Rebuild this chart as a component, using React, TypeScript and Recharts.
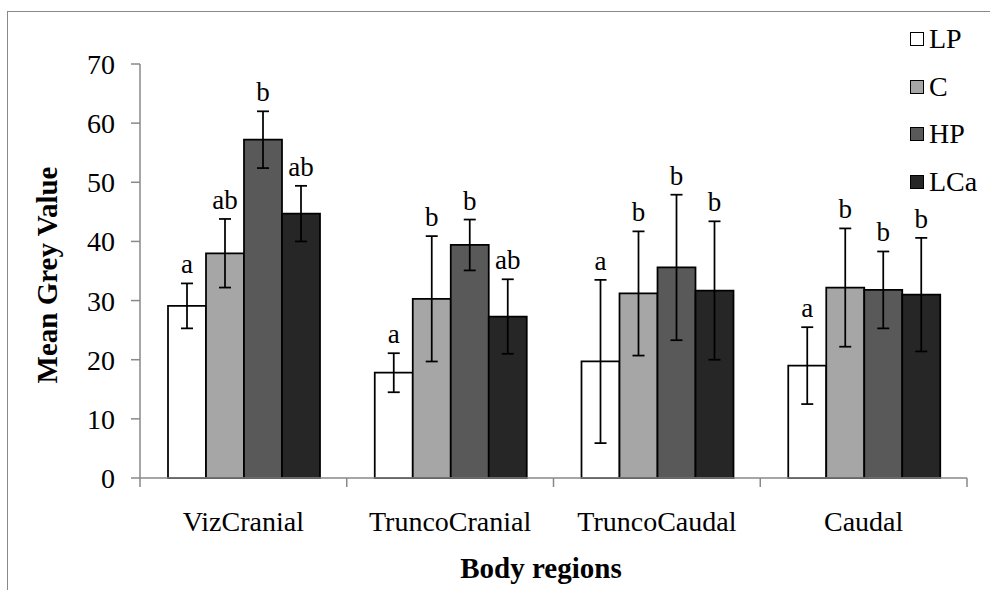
import { BarChart, Bar, XAxis, YAxis, ErrorBar, LabelList, Legend } from 'recharts';

const regions = ['VizCranial', 'TruncoCranial', 'TruncoCaudal', 'Caudal'];

const lpMean = [29.1, 17.8, 19.7, 19.0];
const lpErr = [3.8, 3.3, 13.8, 6.5];
const lpLetters = ['a', 'a', 'a', 'a'];

const cMean = [38.0, 30.3, 31.2, 32.2];
const cErr = [5.8, 10.6, 10.5, 10.0];
const cLetters = ['ab', 'b', 'b', 'b'];

const hpMean = [57.2, 39.4, 35.6, 31.8];
const hpErr = [4.8, 4.3, 12.3, 6.5];
const hpLetters = ['b', 'b', 'b', 'b'];

const lcaMean = [44.7, 27.3, 31.7, 31.0];
const lcaErr = [4.7, 6.3, 11.7, 9.6];
const lcaLetters = ['ab', 'ab', 'b', 'b'];

const yTicks = [0, 10, 20, 30, 40, 50, 60, 70];

const series = [
  { key: 'LP', fill: '#ffffff', mean: lpMean, err: lpErr, letters: lpLetters },
  { key: 'C', fill: '#a6a6a6', mean: cMean, err: cErr, letters: cLetters },
  { key: 'HP', fill: '#595959', mean: hpMean, err: hpErr, letters: hpLetters },
  { key: 'LCa', fill: '#262626', mean: lcaMean, err: lcaErr, letters: lcaLetters },
];

const data = regions.map((region, i) => {
  const row: Record<string, string | number> = { region };
  series.forEach((s) => {
    row[s.key] = s.mean[i];
    row[`${s.key}_err`] = s.err[i];
  });
  return row;
});

const W = 990;
const H = 590;
const MARGIN = { top: 64, right: 23, left: 60, bottom: 52 };
const Y_AXIS_W = 80;
const PLOT_W = W - MARGIN.left - MARGIN.right - Y_AXIS_W;
const BAND = PLOT_W / regions.length;

const FONT = '"Liberation Serif", "Times New Roman", serif';
const AXIS_COLOR = '#898989';

// category label at the band centre, tick marks on the band edges
const RegionTick = (props: any) => {
  const { x, y, payload, index } = props;
  const half = BAND / 2;
  const last = index === regions.length - 1;
  return (
    <g>
      <line x1={x - half} y1={y} x2={x - half} y2={y + 9} stroke={AXIS_COLOR} strokeWidth={1.5} />
      {last && <line x1={x + half} y1={y} x2={x + half} y2={y + 9} stroke={AXIS_COLOR} strokeWidth={1.5} />}
      <text x={x} y={y + 53} textAnchor="middle" fontFamily={FONT} fontSize={28} fill="#000">
        {payload.value}
      </text>
    </g>
  );
};

// significance letter sitting above the top of the error bar
const sigLabel = (s: (typeof series)[number]) => (props: any) => {
  const { x, y, width, height, index } = props;
  const pxPerUnit = height / s.mean[index];
  const top = y - s.err[index] * pxPerUnit;
  return (
    <text x={x + width / 2} y={top - 10} textAnchor="middle" fontFamily={FONT} fontSize={27} fill="#000">
      {s.letters[index]}
    </text>
  );
};

const LegendBox = () => (
  <div style={{ fontFamily: FONT, fontSize: 28, color: '#000' }}>
    {series.map((s) => (
      <div key={s.key} style={{ display: 'flex', alignItems: 'center', height: 47.7 }}>
        <span
          style={{
            width: 12,
            height: 12,
            background: s.fill,
            border: '1.5px solid #000',
            marginRight: 5,
            display: 'inline-block',
          }}
        />
        <span>{s.key}</span>
      </div>
    ))}
  </div>
);

export default function App() {
  return (
    <div style={{ position: 'absolute', left: 0, top: 0, width: W, height: H, overflow: 'hidden', background: '#fff' }}>
      <div
        style={{
          position: 'absolute',
          left: 7,
          top: 11,
          width: W + 40,
          height: H + 40,
          border: `1.5px solid ${AXIS_COLOR}`,
        }}
      />
      <BarChart width={W} height={H} data={data} margin={MARGIN} barCategoryGap={28} barGap={0}>
        <XAxis
          dataKey="region"
          stroke={AXIS_COLOR}
          strokeWidth={1.5}
          tickLine={false}
          tickSize={0}
          tickMargin={0}
          height={60}
          interval={0}
          tick={<RegionTick />}
          label={{
            content: (p: any) => (
              <text
                x={541}
                y={p.viewBox.y + 100}
                textAnchor="middle"
                fontFamily={FONT}
                fontSize={29}
                fontWeight="bold"
                fill="#000"
              >
                Body regions
              </text>
            ),
          }}
        />
        <YAxis
          width={Y_AXIS_W}
          domain={[0, 70]}
          ticks={yTicks}
          interval={0}
          stroke={AXIS_COLOR}
          strokeWidth={1.5}
          tickSize={9}
          tickMargin={16}
          tick={{ fontFamily: FONT, fontSize: 28, fill: '#000' }}
          label={{
            content: (p: any) => {
              const cx = 57;
              const cy = p.viewBox.y + p.viewBox.height / 2 + 4;
              return (
                <text
                  x={cx}
                  y={cy}
                  transform={`rotate(-90 ${cx} ${cy})`}
                  textAnchor="middle"
                  fontFamily={FONT}
                  fontSize={29}
                  fontWeight="bold"
                  fill="#000"
                >
                  Mean Grey Value
                </text>
              );
            },
          }}
        />
        <Legend
          layout="vertical"
          align="center"
          verticalAlign="middle"
          content={<LegendBox />}
          wrapperStyle={{ left: 910, top: 15, width: 80, height: 200 }}
        />
        {series.map((s) => (
          <Bar key={s.key} dataKey={s.key} fill={s.fill} stroke="#000" strokeWidth={1.75} isAnimationActive={false}>
            <ErrorBar dataKey={`${s.key}_err`} width={6} stroke="#000" strokeWidth={1.75} direction="y" />
            <LabelList dataKey={s.key} content={sigLabel(s)} />
          </Bar>
        ))}
      </BarChart>
    </div>
  );
}
